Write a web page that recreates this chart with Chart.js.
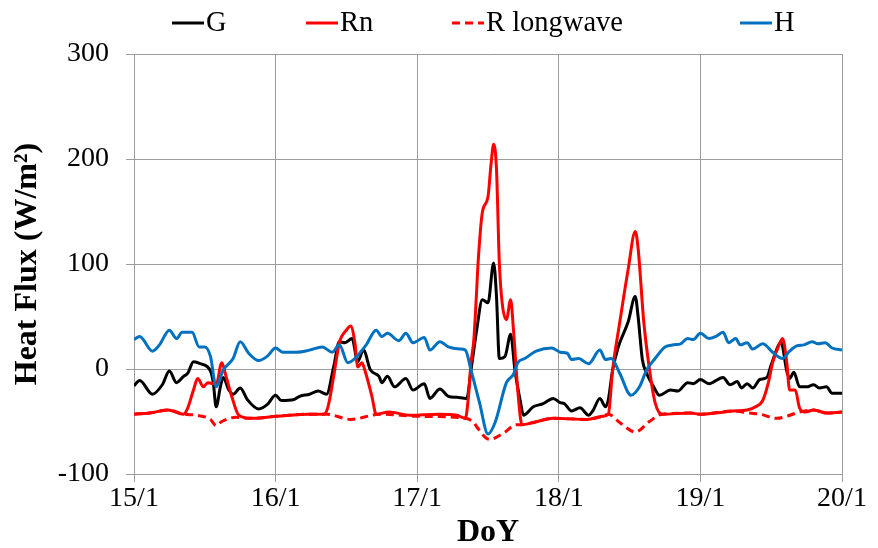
<!DOCTYPE html>
<html>
<head>
<meta charset="utf-8">
<script src="https://cdn.jsdelivr.net/npm/chart.js@4/dist/chart.umd.min.js"></script>
<style>
    html, body { margin: 0; padding: 0; background: #fff; }
    #wrap { width: 878px; height: 548px; }
</style>
</head>
<body>
<div id="wrap"><canvas id="fluxChart" width="878" height="548"></canvas></div>
<script>
// =======================
// DATOS (día del año, W/m2)
// =======================
const gDay = [15.00, 15.04, 15.13, 15.20, 15.25, 15.30, 15.35, 15.38, 15.42, 15.47, 15.54, 15.56, 15.58, 15.61, 15.63, 15.67, 15.70, 15.75, 15.80, 15.88, 15.94,
    16.00, 16.04, 16.13, 16.17, 16.24, 16.30, 16.36, 16.41, 16.45, 16.49, 16.54, 16.58, 16.62, 16.67, 16.73, 16.75, 16.79, 16.84, 16.92, 16.97,
    17.05, 17.09, 17.16, 17.22, 17.28, 17.35, 17.38, 17.42, 17.46, 17.50, 17.54, 17.56, 17.58, 17.62, 17.66, 17.69, 17.73, 17.75, 17.82, 17.89, 17.96,
    18.01, 18.04, 18.09, 18.15, 18.21, 18.24, 18.29, 18.33, 18.35, 18.38, 18.42, 18.49, 18.54, 18.56, 18.59, 18.62, 18.67, 18.71, 18.79, 18.84, 18.91, 18.95,
    19.00, 19.06, 19.16, 19.21, 19.26, 19.29, 19.33, 19.37, 19.42, 19.47, 19.50, 19.57, 19.61, 19.63, 19.66, 19.70, 19.75, 19.80, 19.84, 19.89, 19.93, 20.00];
const gFlux = [-16, -11, -24, -15, -2, -13, -7, -4, 7, 5, -2, -13, -36, -17, -8, -20, -24, -18, -29, -38, -34,
    -25, -30, -29, -26, -24, -21, -24, 2, 26, 25, 29, 7, 18, -1, -7, -13, -7, -17, -9, -20,
    -14, -28, -19, -26, -27, -28, -1, 37, 66, 63, 101, 69, 10, 12, 33, -1, -32, -44, -36, -33, -28,
    -32, -33, -40, -37, -44, -40, -28, -36, -29, -1, 21, 45, 69, 50, 9, -4, -17, -25, -20, -21, -13, -14,
    -10, -14, -8, -15, -12, -18, -14, -18, -10, -8, 4, 25, -2, -9, -3, -17, -17, -15, -18, -17, -23, -23];

const rnDay = [15.00, 15.11, 15.24, 15.35, 15.38, 15.42, 15.45, 15.49, 15.52, 15.56, 15.58, 15.62, 15.65, 15.69, 15.74, 15.82,
    16.01, 16.24, 16.34, 16.37, 16.41, 16.45, 16.50, 16.53, 16.56, 16.58, 16.61, 16.63, 16.68, 16.71, 16.80, 16.95,
    17.15, 17.28, 17.34, 17.36, 17.38, 17.40, 17.42, 17.43, 17.46, 17.50, 17.52, 17.54, 17.56, 17.58, 17.60, 17.63, 17.66, 17.68, 17.71, 17.74, 17.82, 17.96,
    18.20, 18.31, 18.35, 18.38, 18.43, 18.49, 18.54, 18.56, 18.60, 18.64, 18.68, 18.73, 18.93,
    19.00, 19.23, 19.33, 19.39, 19.44, 19.48, 19.51, 19.55, 19.58, 19.61, 19.63, 19.67, 19.70, 19.74, 19.80, 19.89, 20.00];
const rnFlux = [-43, -42, -39, -43, -37, -20, -9, -17, -13, -14, -15, 6, -7, -26, -44, -47,
    -45, -43, -43, -36, -7, 25, 37, 41, 25, 2, 6, -1, -26, -43, -41, -44,
    -43, -44, -47, -29, 6, 28, 75, 101, 149, 164, 193, 214, 190, 101, 63, 47, 66, 37, -20, -53, -51, -47,
    -48, -45, -43, -1, 44, 95, 131, 115, 45, 0, -32, -43, -42,
    -43, -40, -39, -36, -30, -13, 6, 21, 29, 6, -20, -20, -37, -41, -39, -42, -41];

const lwDay = [15.00, 15.11, 15.24, 15.35, 15.44, 15.54, 15.58, 15.62, 15.72, 15.82,
    16.01, 16.24, 16.36, 16.53, 16.74, 17.00, 17.34, 17.40, 17.42, 17.51, 17.61, 17.70, 17.74, 17.82, 17.96,
    18.20, 18.31, 18.35, 18.43, 18.54, 18.64, 18.73, 18.93,
    19.00, 19.23, 19.35, 19.42, 19.54, 19.61, 19.70, 19.80, 19.89, 20.00];
const lwFlux = [-43, -42, -39, -43, -44, -48, -54, -50, -46, -47,
    -45, -43, -43, -48, -43, -45, -47, -51, -55, -67, -61, -53, -53, -51, -47,
    -48, -45, -43, -51, -60, -50, -43, -42,
    -43, -40, -42, -43, -47, -45, -41, -39, -42, -41];

const hDay = [15.00, 15.04, 15.13, 15.18, 15.25, 15.30, 15.34, 15.41, 15.46, 15.50, 15.54, 15.58, 15.63, 15.70, 15.75, 15.81, 15.88, 15.94,
    16.00, 16.05, 16.15, 16.24, 16.33, 16.40, 16.45, 16.51, 16.56, 16.64, 16.71, 16.75, 16.79, 16.87, 16.92, 16.97,
    17.05, 17.09, 17.16, 17.22, 17.30, 17.34, 17.38, 17.44, 17.50, 17.55, 17.63, 17.68, 17.71, 17.76, 17.84, 17.95,
    18.01, 18.06, 18.09, 18.14, 18.21, 18.29, 18.33, 18.37, 18.43, 18.51, 18.57, 18.62, 18.68, 18.75, 18.81, 18.86, 18.91, 18.95,
    19.00, 19.06, 19.11, 19.16, 19.20, 19.25, 19.28, 19.33, 19.37, 19.44, 19.51, 19.58, 19.63, 19.68, 19.73, 19.79, 19.83, 19.88, 19.93, 20.00];
const hFlux = [28, 31, 17, 23, 37, 29, 35, 35, 21, 21, 12, -17, -1, 10, 26, 15, 8, 12,
    20, 16, 16, 18, 21, 16, 23, 6, 10, 23, 37, 31, 34, 27, 34, 25,
    30, 18, 26, 21, 19, 18, -1, -32, -62, -51, -13, -5, 6, 10, 17, 20,
    16, 15, 9, 10, 5, 18, 9, 10, -4, -25, -17, -1, 10, 21, 23, 24, 29, 28,
    34, 29, 31, 35, 25, 29, 23, 25, 19, 24, 16, 10, 17, 22, 23, 26, 24, 25, 20, 18];

const dayTicks = [15, 16, 17, 18, 19, 20];
const fluxTicks = [-100, 0, 100, 200, 300];

const serif = "'Liberation Serif', 'Times New Roman', serif";
const gridGray = "#9c9c9c";

function toPoints(days, values) {
    return days.map((d, i) => ({ x: d, y: values[i] }));
}

// =======================
// LEYENDA (estilo Excel)
// =======================
const excelLegend = {
    id: "excelLegend",
    afterDraw(chart, args, opts) {
        const ctx = chart.ctx;
        ctx.save();
        ctx.font = `${opts.size}px ${serif}`;
        ctx.textBaseline = "middle";
        ctx.fillStyle = "#000";
        chart.data.datasets.forEach((ds, i) => {
            const x = opts.slots[i];
            ctx.beginPath();
            ctx.strokeStyle = ds.borderColor;
            ctx.lineWidth = ds.borderWidth;
            ctx.setLineDash(ds.borderDash || []);
            ctx.moveTo(x, opts.y);
            ctx.lineTo(x + opts.lineLength, opts.y);
            ctx.stroke();
            ctx.setLineDash([]);
            ctx.fillText(ds.label, x + opts.lineLength + 2, opts.y + 1);
        });
        ctx.restore();
    }
};

// =======================
// GRÁFICO
// =======================
const ctx = document.getElementById("fluxChart").getContext("2d");

new Chart(ctx, {
    type: "line",
    data: {
        datasets: [
            {
                label: "G",
                data: toPoints(gDay, gFlux),
                borderColor: "#000000",
                borderWidth: 3,
                order: 4
            },
            {
                label: "Rn",
                data: toPoints(rnDay, rnFlux),
                borderColor: "#ff0000",
                borderWidth: 3,
                order: 3
            },
            {
                label: "R longwave",
                data: toPoints(lwDay, lwFlux),
                borderColor: "#ff0000",
                borderWidth: 3,
                borderDash: [8, 5],
                order: 2
            },
            {
                label: "H",
                data: toPoints(hDay, hFlux),
                borderColor: "#0070c0",
                borderWidth: 3,
                order: 1
            }
        ]
    },
    options: {
        responsive: false,
        animation: false,
        devicePixelRatio: 1,
        layout: {
            padding: { top: 54, right: 36, left: 0, bottom: 0 }
        },
        elements: {
            point: { radius: 0 },
            line: { cubicInterpolationMode: "monotone", fill: false }
        },
        plugins: {
            legend: { display: false },
            tooltip: { enabled: false },
            excelLegend: {
                slots: [172, 306, 452, 740],
                y: 23,
                lineLength: 32,
                size: 28.5
            }
        },
        scales: {
            x: {
                type: "linear",
                min: 15,
                max: 20,
                afterBuildTicks: axis => {
                    axis.ticks = dayTicks.map(v => ({ value: v }));
                },
                afterFit: axis => { axis.height = 74; },
                ticks: {
                    callback: v => `${v}/1`,
                    color: "#000",
                    font: { family: serif, size: 28 },
                    padding: 0,
                    maxRotation: 0
                },
                grid: { color: gridGray, lineWidth: 1, tickLength: 8 },
                border: { color: gridGray, width: 1 },
                title: {
                    display: true,
                    text: "DoY",
                    color: "#000",
                    font: { family: serif, size: 32, weight: "bold", lineHeight: 1.0 },
                    padding: { top: 0, bottom: -1 }
                }
            },
            y: {
                min: -100,
                max: 300,
                afterBuildTicks: axis => {
                    axis.ticks = fluxTicks.map(v => ({ value: v }));
                },
                afterFit: axis => { axis.width = 134; },
                ticks: {
                    color: "#000",
                    font: { family: serif, size: 28 },
                    padding: 17
                },
                grid: { color: gridGray, lineWidth: 1, tickLength: 8 },
                border: { color: gridGray, width: 1 },
                title: {
                    display: true,
                    text: "Heat Flux (W/m²)",
                    color: "#000",
                    font: { family: serif, size: 32, weight: "bold", lineHeight: 1.0 },
                    padding: { top: 12, bottom: 0 }
                }
            }
        }
    },
    plugins: [excelLegend]
});
</script>
</body>
</html>
